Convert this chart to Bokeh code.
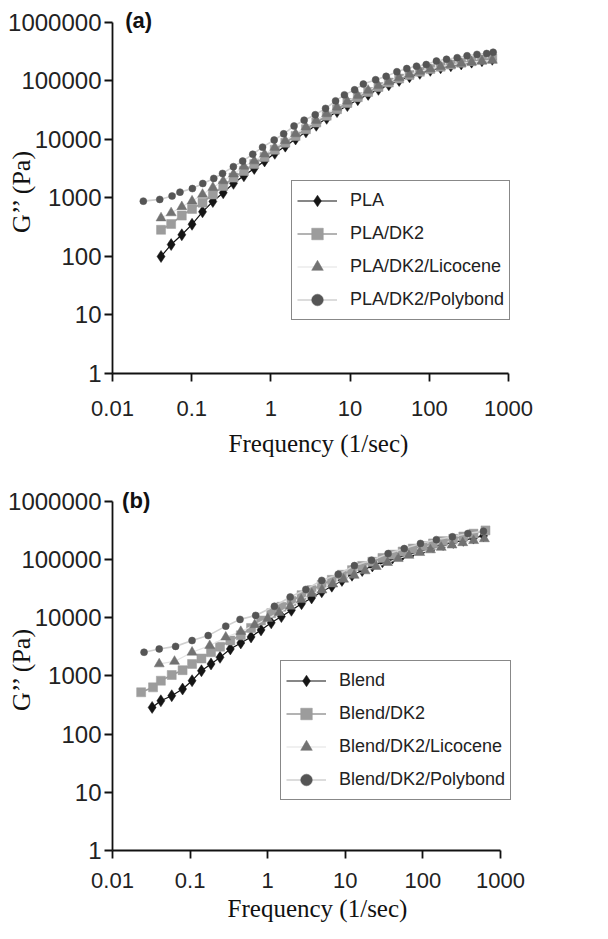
from bokeh.plotting import figure
from bokeh.models import Legend, LegendItem, FixedTicker, Label, Range1d
from bokeh.layouts import column
from bokeh.embed import file_html
from bokeh.resources import INLINE

# ---------------- data ----------------
x_ticks = [0.01, 0.1, 1, 10, 100, 1000]
x_tick_labels = ["0.01", "0.1", "1", "10", "100", "1000"]
y_ticks = [1, 10, 100, 1000, 10000, 100000, 1000000]
y_tick_labels = ["1", "10", "100", "1000", "10000", "100000", "1000000"]

# panel (a)
a_labels = ["PLA", "PLA/DK2", "PLA/DK2/Licocene", "PLA/DK2/Polybond"]
a_freq = [0.041, 0.055, 0.075, 0.101, 0.137, 0.185, 0.25, 0.337, 0.456, 0.616,
          0.832, 1.12, 1.52, 2.05, 2.77, 3.74, 5.06, 6.84, 9.24, 12.5, 16.9,
          22.8, 30.8, 41.6, 56.2, 75.9, 103, 139, 187, 253, 342, 462, 624]
a_pla = [100, 160, 235, 355, 580, 870, 1230, 1780, 2400, 3200, 4300, 5800, 7700,
         10200, 13500, 17500, 23000, 30000, 38000, 48000, 59000, 72000, 86000,
         102000, 118000, 135000, 152000, 168000, 182000, 196000, 210000, 222000, 235000]
a_dk2 = [286, 360, 500, 650, 830, 1150, 1600, 2230, 2900, 3800, 5000, 6700, 8800,
         11500, 15000, 19500, 25500, 33000, 42000, 53000, 65000, 79000, 94000,
         110000, 127000, 144000, 160000, 176000, 191000, 205000, 218000, 230000, 242000]
a_lic = [455, 556, 707, 884, 1150, 1510, 1960, 2560, 3470, 4300, 5600, 7300, 9500,
         12500, 16300, 21000, 27500, 35500, 45000, 56000, 69000, 83000, 98000,
         114000, 130000, 146000, 161000, 176000, 189000, 200000, 210000, 218000, 225000]
a_poly_freq = [0.0245, 0.0395, 0.0565, 0.0711, 0.102, 0.138, 0.19, 0.245, 0.336, 0.44,
               0.59, 0.785, 1.1, 1.45, 1.96, 2.63, 3.63, 4.9, 6.56, 8.47, 11.4, 14.7,
               21, 28.5, 39, 52, 69, 91.5, 123, 165, 225, 300, 400, 530, 640]
a_poly = [884, 946, 1080, 1260, 1450, 1770, 2160, 2630, 3430, 4270, 5600, 7400, 9800,
          12500, 17000, 21400, 26500, 34000, 45700, 57900, 70600, 88500, 105000,
          120000, 144000, 163000, 179000, 191000, 219000, 235000, 250000, 270000,
          285000, 295000, 310000]

# panel (b)
b_labels = ["Blend", "Blend/DK2", "Blend/DK2/Licocene", "Blend/DK2/Polybond"]
b_blend_freq = [0.0324, 0.042, 0.058, 0.080, 0.106, 0.14, 0.186, 0.243, 0.33, 0.45,
                0.61, 0.82, 1.11, 1.5, 2.02, 2.73, 3.68, 4.97, 6.7, 9.05, 12.2, 16.5,
                22.3, 30.1, 40.6, 54.8, 74, 100, 135, 182, 246, 332, 448, 605]
b_blend = [288, 375, 458, 597, 830, 1230, 1610, 2090, 2920, 3700, 4700, 6200, 8200,
           10500, 13500, 17500, 22000, 28000, 35000, 44000, 54000, 65000, 78000,
           92000, 107000, 122000, 138000, 153000, 168000, 183000, 198000, 215000,
           235000, 258000]
b_dk2_freq = [0.0234, 0.0333, 0.042, 0.058, 0.08, 0.106, 0.14, 0.186, 0.243, 0.33,
              0.45, 0.61, 0.82, 1.11, 1.5, 2.02, 2.73, 3.68, 4.97, 6.7, 9.05, 12.2,
              16.5, 22.3, 30.1, 40.6, 54.8, 74, 100, 135, 182, 246, 332, 448, 640]
b_dk2 = [525, 638, 830, 1040, 1260, 1610, 2000, 2560, 3190, 4070, 5000, 6700, 9000,
         12000, 15500, 19500, 24500, 30000, 37000, 45000, 55000, 66000, 78000, 92000,
         107000, 122000, 138000, 155000, 172000, 190000, 208000, 228000, 250000,
         280000, 318000]
b_lic_freq = [0.040, 0.063, 0.106, 0.179, 0.288, 0.45, 0.68, 1.0, 1.4, 1.95, 2.7, 3.7,
              5.0, 6.9, 9.5, 13, 18, 25, 35, 48, 66, 91, 125, 172, 237, 326, 450, 620]
b_lic = [1610, 1780, 2560, 3320, 4650, 5800, 7600, 9700, 12300, 15800, 20500, 26000,
         30000, 38000, 46000, 53700, 64000, 76000, 89000, 104000, 118000, 132000,
         147000, 162000, 178000, 195000, 212000, 228000]
b_poly_freq = [0.0255, 0.040, 0.065, 0.106, 0.171, 0.288, 0.44, 0.70, 1.22, 1.95, 3.1,
               4.97, 8.1, 13.1, 21.8, 35.6, 57.5, 93, 149, 240, 380, 603]
b_poly = [2560, 2920, 3230, 4070, 4950, 7190, 9400, 11000, 15800, 22800, 30800, 44000,
          56000, 79000, 98000, 127000, 155000, 190000, 221000, 247000, 282000, 309000]

# ---------------- styles ----------------
SANS = "Liberation Sans"
SERIF = "Liberation Serif"
styles = [
    dict(line_color="#111111", line_width=1.2, marker="diamond", size=12, fill="#151515"),
    dict(line_color="#9a9a9a", line_width=1.6, marker="square", size=9, fill="#9c9c9c"),
    dict(line_color="#e2e2e2", line_width=1.2, marker="triangle", size=10, fill="#727272"),
    dict(line_color="#d0d0d0", line_width=1.6, marker="circle", size=7, fill="#555555"),
]


def make_panel(series, labels, tag, tag_pos, frame_w, frame_h, x_end, y_end, b_top,
               b_bottom, b_right, legend_loc, lab_standoff, title_standoff):
    p = figure(x_axis_type="log", y_axis_type="log",
               x_range=Range1d(0.01, x_end), y_range=Range1d(1, y_end),
               frame_width=frame_w, frame_height=frame_h,
               min_border_left=112, min_border_right=b_right,
               min_border_top=b_top, min_border_bottom=b_bottom,
               output_backend="svg", toolbar_location=None,
               outline_line_color=None, background_fill_color="white",
               border_fill_color="white")
    p.xgrid.visible = False
    p.ygrid.visible = False

    p.xaxis.ticker = FixedTicker(ticks=x_ticks)
    p.yaxis.ticker = FixedTicker(ticks=y_ticks)
    p.xaxis.bounds = (x_ticks[0], x_ticks[-1])
    p.yaxis.bounds = (y_ticks[0], y_ticks[-1])
    p.xaxis.major_label_overrides = {t: l for t, l in zip(x_ticks, x_tick_labels)}
    p.yaxis.major_label_overrides = {t: l for t, l in zip(y_ticks, y_tick_labels)}
    for ax in (p.xaxis, p.yaxis):
        ax.axis_line_color = "#111111"
        ax.axis_line_width = 1.8
        ax.major_tick_line_color = "#111111"
        ax.major_tick_line_width = 1.8
        ax.major_tick_in = 0
        ax.major_tick_out = 8
        ax.minor_tick_line_color = None
        ax.major_label_text_font = SANS
        ax.major_label_text_color = "#222222"
        ax.axis_label_text_color = "#111111"
        ax.axis_label_text_font = SERIF
        ax.axis_label_text_font_style = "normal"
    p.xaxis.major_label_text_font_size = "22px"
    p.yaxis.major_label_text_font_size = "24px"
    p.yaxis.major_label_standoff = 3
    p.xaxis.major_label_standoff = lab_standoff
    p.yaxis.axis_label = "G\u2019\u2019 (Pa)"
    p.yaxis.axis_label_text_font_size = "26px"
    p.yaxis.axis_label_standoff = -31
    p.xaxis.axis_label = "Frequency (1/sec)"
    p.xaxis.axis_label_text_font_size = "25px"
    p.xaxis.axis_label_standoff = title_standoff

    items = []
    for (fx, gy), lab, st in zip(series, labels, styles):
        r_line = p.line(fx, gy, line_color=st["line_color"], line_width=st["line_width"])
        r_pts = p.scatter(fx, gy, marker=st["marker"], size=st["size"],
                          fill_color=st["fill"], line_color=st["fill"], line_width=0.5)
        items.append(LegendItem(label=lab, renderers=[r_line, r_pts]))

    legend = Legend(items=items, location=legend_loc, border_line_color="#111111",
                    border_line_width=1.5, background_fill_color="white",
                    background_fill_alpha=1.0, label_text_font=SANS,
                    label_text_font_size="18px", label_text_color="#222222",
                    glyph_width=40, glyph_height=29, label_height=29,
                    label_standoff=13, padding=5, spacing=4, margin=0)
    p.add_layout(legend)

    p.add_layout(Label(x=tag_pos[0], y=tag_pos[1], text=tag, text_font=SANS,
                       text_font_style="bold", text_font_size="22px",
                       text_baseline="middle", text_color="#111111"))
    return p


p1 = make_panel([(a_freq, a_pla), (a_freq, a_dk2), (a_freq, a_lic),
                 (a_poly_freq, a_poly)],
                a_labels, "(a)", (0.0145, 1080000), 412, 365, 1592, 1735000,
                8, 89, 76, (179, 53), 19, 11)
p2 = make_panel([(b_blend_freq, b_blend), (b_dk2_freq, b_dk2),
                 (b_lic_freq, b_lic), (b_poly_freq, b_poly)],
                b_labels, "(b)", (0.0133, 1050000), 410, 363, 1920, 1740000,
                25, 73, 78, (168, 50), 14, 4)

layout = column(p1, p2, spacing=0)
open("out.html", "w").write(file_html(layout, INLINE))
